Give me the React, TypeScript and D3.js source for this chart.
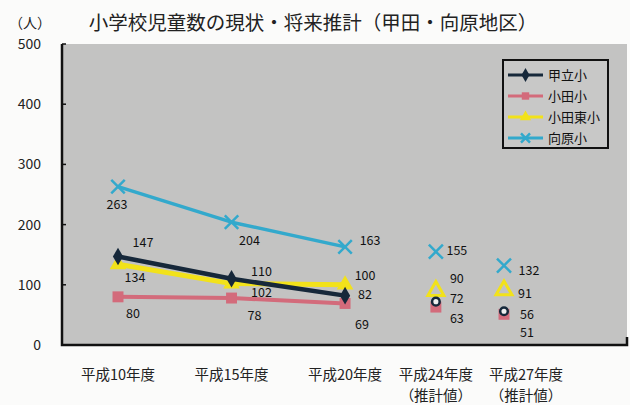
import { useEffect, useRef } from 'react';
import * as d3 from 'd3';

// 年度 (平成) and their axis labels
const years = [10, 15, 20, 24, 27];
const yearLabels = ['平成10年度', '平成15年度', '平成20年度', '平成24年度', '平成27年度'];
const subLabels = ['', '', '', '（推計値）', '（推計値）'];
const yTicks = [0, 100, 200, 300, 400, 500];

const schools = ['甲立小', '小田小', '小田東小', '向原小'];
const kotachi = [147, 110, 82, 72, 56];
const oda = [80, 78, 69, 63, 51];
const odaHigashi = [134, 102, 100, 90, 91];
const mukaihara = [263, 204, 163, 155, 132];
// first 3 are actual (connected), last 2 are projections
const actualCount = 3;

export default function App() {
  const ref = useRef<SVGSVGElement>(null);

  useEffect(() => {
    if (!ref.current) return;
    const svg = d3.select(ref.current);
    svg.selectAll('*').remove();

    const width = 630;
    const height = 405;
    const plot = { left: 62, right: 627, top: 44, bottom: 345 };
    const font = '"Noto Sans CJK JP", "Noto Sans", sans-serif';

    const x = d3.scaleLinear().domain([10, 27]).range([118, 504]);
    const y = d3.scaleLinear().domain([0, 500]).range([plot.bottom, plot.top]);

    svg.attr('width', width).attr('height', height);
    svg.append('rect').attr('width', width).attr('height', height).attr('fill', '#fbfbfa');

    // plot background
    svg.append('rect')
      .attr('x', plot.left).attr('y', plot.top)
      .attr('width', plot.right - plot.left).attr('height', plot.bottom - plot.top)
      .attr('fill', '#c3c3c2');

    // axes
    svg.append('path')
      .attr('d', `M${plot.left},${plot.top}V${plot.bottom}H${plot.right}V${plot.bottom - 8}`)
      .attr('fill', 'none').attr('stroke', '#111').attr('stroke-width', 2.5);

    // y ticks
    const yg = svg.append('g');
    yTicks.forEach(t => {
      yg.append('line')
        .attr('x1', plot.left).attr('x2', plot.left + 4)
        .attr('y1', y(t)).attr('y2', y(t))
        .attr('stroke', '#111').attr('stroke-width', 1.5);
      yg.append('text')
        .attr('x', 41).attr('y', y(t) + 5)
        .attr('text-anchor', 'end')
        .style('font-family', font).style('font-size', '14px').style('fill', '#222')
        .text(t);
    });

    // x labels
    const xg = svg.append('g').style('font-family', font).style('font-size', '14.5px').style('fill', '#222');
    years.forEach((yr, i) => {
      const cx = x(yr) + (i === years.length - 1 ? 22 : 0);
      xg.append('text').attr('x', cx).attr('y', 380).attr('text-anchor', 'middle').text(yearLabels[i]);
      if (subLabels[i]) {
        xg.append('text').attr('x', cx).attr('y', 401).attr('text-anchor', 'middle').text(subLabels[i]);
      }
    });

    // title
    svg.append('text')
      .attr('x', 9).attr('y', 28)
      .style('font-family', font).style('font-size', '14px').style('fill', '#222')
      .text('（人）');
    svg.append('text')
      .attr('x', 313).attr('y', 30).attr('text-anchor', 'middle')
      .style('font-family', font).style('font-size', '19.5px').style('fill', '#222')
      .text('小学校児童数の現状・将来推計（甲田・向原地区）');

    const series = [
      { name: schools[0], values: kotachi, color: '#16283a', marker: 'diamond', width: 4.5 },
      { name: schools[1], values: oda, color: '#d36b7b', marker: 'square', width: 4 },
      { name: schools[2], values: odaHigashi, color: '#f2e21a', marker: 'triangle', width: 5 },
      { name: schools[3], values: mukaihara, color: '#33a9cc', marker: 'cross', width: 3.5 },
    ];

    const symbolOf = (m: string) =>
      m === 'diamond' ? d3.symbolDiamond : m === 'square' ? d3.symbolSquare : m === 'triangle' ? d3.symbolTriangle : d3.symbolX;

    const drawMarker = (g: d3.Selection<SVGGElement, unknown, null, undefined>, m: string, color: string, cx: number, cy: number, hollow: boolean, size: number) => {
      const p = g.append('path')
        .attr('transform', `translate(${cx},${cy})`)
        .attr('d', d3.symbol(symbolOf(m), size)());
      if (m === 'cross') {
        p.attr('fill', 'none').attr('stroke', color).attr('stroke-width', 2.5);
      } else if (hollow) {
        p.attr('fill', 'none').attr('stroke', color).attr('stroke-width', 3);
      } else {
        p.attr('fill', color);
      }
    };

    const line = d3.line<number>().x((_, i) => x(years[i])).y(d => y(d));

    // lines for actual values
    const order = [3, 1, 2, 0];
    order.forEach(si => {
      const s = series[si];
      const g = svg.append('g');
      g.append('path')
        .attr('d', line(s.values.slice(0, actualCount)))
        .attr('fill', 'none').attr('stroke', s.color)
        .attr('stroke-width', s.width).attr('stroke-linejoin', 'round');
      s.values.forEach((v, i) => {
        if (i < actualCount) drawMarker(g, s.marker, s.color, x(years[i]), y(v), false, s.marker === 'diamond' ? 90 : 120);
      });
    });
    // projected markers
    [1, 2, 0, 3].forEach(si => {
      const s = series[si];
      const g = svg.append('g');
      s.values.forEach((v, i) => {
        if (i >= actualCount) {
          if (s.marker === 'diamond') {
            g.append('circle').attr('cx', x(years[i])).attr('cy', y(v)).attr('r', 3.8)
              .attr('fill', '#eeeeee').attr('stroke', s.color).attr('stroke-width', 2.5);
          } else if (s.marker === 'square') {
            drawMarker(g, s.marker, s.color, x(years[i]), y(v), false, 120);
          } else {
            drawMarker(g, s.marker, s.color, x(years[i]), y(v), true, s.marker === 'cross' ? 130 : 110);
          }
        }
      });
    });

    // data labels: [dx, dy] of label centre relative to the point
    const labelOffsets: Record<string, [number, number][]> = {
      '甲立小': [[25, -14], [30, -7], [20, -1], [21, -3], [23, 3]],
      '小田小': [[15, 17], [23, 17], [17, 21], [21, 11], [23, 18]],
      '小田東小': [[17, 13], [30, 9], [20, -9], [21, -12], [21, 3]],
      '向原小': [[-1, 18], [18, 18], [25, -6], [21, -1], [25, 5]],
    };
    const lg = svg.append('g').style('font-family', font).style('font-size', '12.5px').style('fill', '#111');
    series.forEach(s => {
      s.values.forEach((v, i) => {
        const [dx, dy] = labelOffsets[s.name][i];
        lg.append('text')
          .attr('x', x(years[i]) + dx).attr('y', y(v) + dy + 4.5)
          .attr('text-anchor', 'middle')
          .text(v);
      });
    });

    // legend
    const leg = svg.append('g');
    leg.append('rect')
      .attr('x', 503).attr('y', 60).attr('width', 105).attr('height', 88)
      .attr('fill', '#c8c8c7').attr('stroke', '#111').attr('stroke-width', 2);
    series.forEach((s, i) => {
      const ly = 75 + i * 21;
      const g = leg.append('g');
      g.append('line').attr('x1', 508).attr('x2', 543).attr('y1', ly).attr('y2', ly)
        .attr('stroke', s.color).attr('stroke-width', 3);
      drawMarker(g, s.marker, s.color, 525.5, ly, false, 55);
      g.append('text').attr('x', 548).attr('y', ly + 5)
        .style('font-family', font).style('font-size', '13px').style('fill', '#111')
        .text(s.name);
    });
  }, []);

  return <svg ref={ref} style={{ display: 'block', position: 'absolute', left: 0, top: 0 }} />;
}
